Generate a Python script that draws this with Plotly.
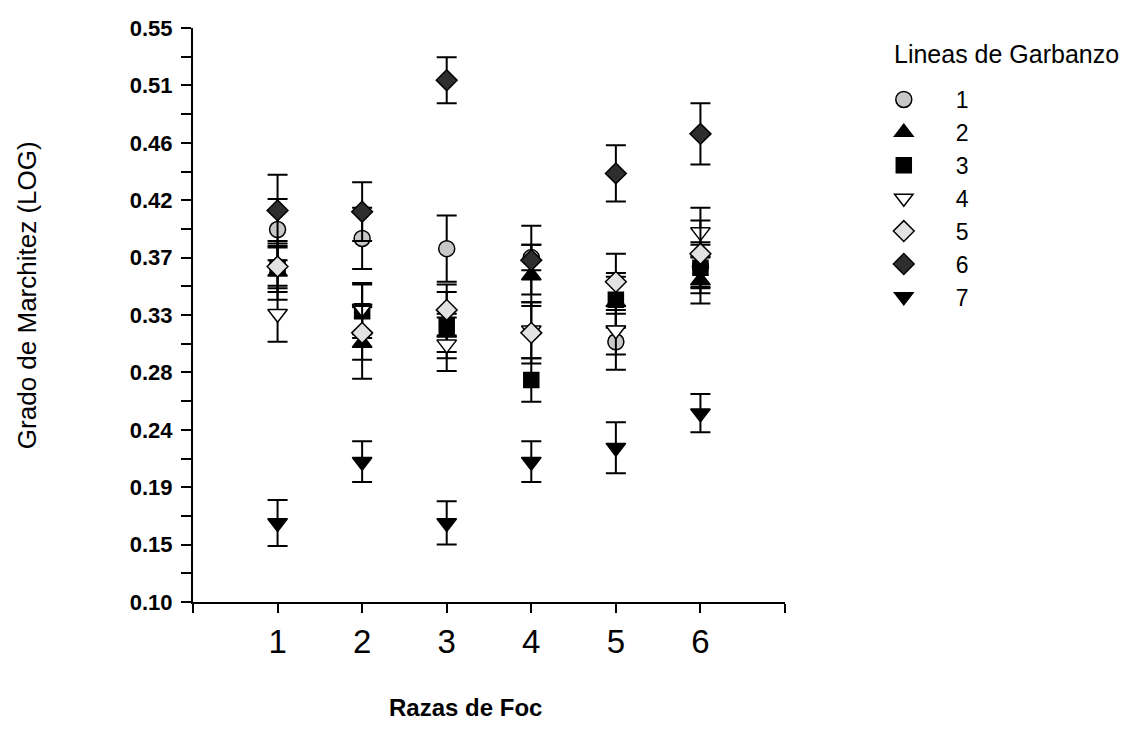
import plotly.graph_objects as go

# ---------------- data ----------------
razas = [1, 2, 3, 4, 5, 6]
lineas = ["1", "2", "3", "4", "5", "6", "7"]

linea1 = [0.392, 0.385, 0.377, 0.370, 0.304, 0.363]
err1 = [0.024, 0.024, 0.026, 0.010, 0.022, 0.017]
linea2 = [0.359, 0.303, 0.311, 0.356, 0.335, 0.352]
err2 = [0.022, 0.028, 0.015, 0.024, 0.020, 0.018]
linea3 = [0.362, 0.328, 0.317, 0.274, 0.337, 0.362]
err3 = [0.016, 0.021, 0.026, 0.017, 0.021, 0.020]
linea4 = [0.326, 0.330, 0.302, 0.313, 0.313, 0.390]
err4 = [0.022, 0.020, 0.021, 0.022, 0.019, 0.019]
linea5 = [0.363, 0.311, 0.329, 0.311, 0.351, 0.373]
err5 = [0.020, 0.021, 0.020, 0.024, 0.022, 0.026]
linea6 = [0.407, 0.406, 0.509, 0.368, 0.436, 0.467]
err6 = [0.028, 0.023, 0.018, 0.027, 0.022, 0.024]
linea7 = [0.162, 0.210, 0.162, 0.210, 0.221, 0.248]
err7 = [0.018, 0.016, 0.017, 0.016, 0.020, 0.015]

y_tick_vals = [0.10, 0.145, 0.19, 0.235, 0.28, 0.325, 0.37, 0.415, 0.46, 0.505, 0.55]
y_tick_text = ["0.10", "0.15", "0.19", "0.24", "0.28", "0.33", "0.37", "0.42", "0.46", "0.51", "0.55"]
y_minor_vals = [0.1225, 0.1675, 0.2125, 0.2575, 0.3025, 0.3475, 0.3925, 0.4375, 0.4825, 0.5275]
x_tick_vals = [0, 1, 2, 3, 4, 5, 6, 7]
x_tick_text = ["", "1", "2", "3", "4", "5", "6", ""]

series = [linea1, linea2, linea3, linea4, linea5, linea6, linea7]
errors = [err1, err2, err3, err4, err5, err6, err7]

# ---------------- styles ----------------
symbols = ["circle", "triangle-up", "square", "triangle-down", "diamond", "diamond", "triangle-down"]
fills = ["#c8c8c8", "#000000", "#000000", "#ffffff", "#e2e2e2", "#2e2e2e", "#000000"]
sizes = [16, 17, 15, 17, 16, 16, 17]

FONT = "Arial, Liberation Sans, sans-serif"
PAD = "\u00a0" * 5

fig = go.Figure()
for i, (name, yv, ev) in enumerate(zip(lineas, series, errors)):
    fig.add_trace(go.Scatter(
        x=razas, y=yv, name=PAD + name, mode="markers",
        legendgroup=name,
        marker=dict(symbol=symbols[i], size=sizes[i], color=fills[i],
                    line=dict(color="#000000", width=1.5)),
        error_y=dict(type="data", array=ev, visible=True,
                     color="#000000", thickness=2, width=10),
    ))

fig.update_layout(
    width=1128, height=749,
    margin=dict(l=193, r=343, t=28, b=147),
    paper_bgcolor="white", plot_bgcolor="white",
    font=dict(family=FONT, color="#000000"),
    showlegend=True,
    legend=dict(
        font=dict(size=23, family=FONT),
        xref="container", yref="container",
        x=0.7835, xanchor="left", y=1 - 78 / 749, yanchor="top",
        tracegroupgap=0,
        bgcolor="rgba(0,0,0,0)",
    ),
    xaxis=dict(
        range=[0, 7], tickvals=x_tick_vals, ticktext=x_tick_text,
        showline=True, linecolor="#000000", linewidth=2,
        ticks="outside", ticklen=9, tickwidth=2, tickcolor="#000000",
        tickfont=dict(size=33, family=FONT), ticklabelstandoff=0,
        showgrid=False, zeroline=False,
    ),
    yaxis=dict(
        range=[0.10, 0.55], tickvals=y_tick_vals, ticktext=y_tick_text,
        showline=True, linecolor="#000000", linewidth=2,
        ticks="outside", ticklen=10, tickwidth=2, tickcolor="#000000",
        tickfont=dict(size=22, family=FONT, weight="bold"), ticklabelstandoff=4,
        minor=dict(tickvals=y_minor_vals,
                   ticks="outside", ticklen=10, tickwidth=2, tickcolor="#000000"),
        showgrid=False, zeroline=False,
    ),
    annotations=[
        dict(text="Lineas de Garbanzo", xref="paper", yref="paper",
             x=(892 - 193) / 592, y=(602 - 54) / 574,
             showarrow=False, xanchor="left", yanchor="middle",
             font=dict(size=25, family=FONT)),
        dict(text="Razas de Foc", xref="paper", yref="paper", x=0.46, y=-0.183,
             showarrow=False, xanchor="center", yanchor="middle",
             font=dict(size=24, family=FONT, weight="bold")),
        dict(text="Grado de Marchitez (LOG)", xref="paper", yref="paper",
             x=-0.28, y=0.535, textangle=-90, showarrow=False,
             xanchor="center", yanchor="middle",
             font=dict(size=26, family=FONT)),
    ],
)

fig.write_html("out.html")
